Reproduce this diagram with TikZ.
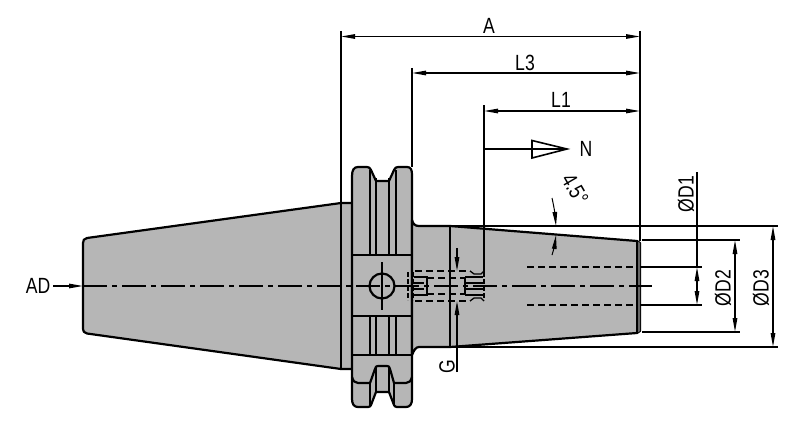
\documentclass[tikz,border=0pt]{standalone}
\usepackage{fontspec}
\setmainfont[FakeStretch=0.8]{Liberation Sans}
\usetikzlibrary{arrows.meta}
\definecolor{bodygrey}{HTML}{B6B6B6}
\tikzset{
  x=1pt,y=-1pt,
  body/.style={fill=bodygrey,draw=black,line width=2.2pt,line join=round},
  edge/.style={draw=black,line width=2.2pt,line join=round},
  thin line/.style={draw=black,line width=1.2pt},
  dimline/.style={draw=black,line width=1.3pt,{Triangle[length=14pt,width=4.5pt]}-{Triangle[length=14pt,width=4.5pt]}},
  tipend/.style={draw=black,line width=1.3pt,-{Triangle[length=14pt,width=4.5pt]}},
  centre/.style={draw=black,line width=1.1pt,dash pattern=on 24pt off 5pt on 5pt off 5pt},
  hidden/.style={draw=black,line width=1.5pt,dash pattern=on 7pt off 4pt},
  lab/.style={font=\fontsize{22pt}{24pt}\selectfont,inner sep=0pt,text=black}
}
\begin{document}
\begin{tikzpicture}
\useasboundingbox (0,0) rectangle (800,428);
\fill[white] (0,0) rectangle (800,428);
% rear taper
\draw[body] (87,238) -- (341,203) -- (353,203) -- (353,369) -- (341,369) -- (87,333.5)
  .. controls (84,333) and (83,331) .. (83,329) -- (83,243) .. controls (83,240) and (84,239) .. (87,238) -- cycle;
% flange
\draw[body] (352,176) .. controls (352,170) and (354,167) .. (358,167) -- (367,167) .. controls (369,167) and (370,168) .. (371,170)
  -- (376,181) -- (389,181) -- (394,170) .. controls (395,168) and (396,167) .. (398,167) -- (407,167)
  .. controls (411,167) and (412,170) .. (412,175) -- (412,399) .. controls (412,404) and (410,407) .. (406,407)
  -- (397,407) .. controls (395,407) and (394.5,406) .. (394,405) -- (389,392) -- (376,392) -- (371,405)
  .. controls (370.5,406) and (370,407) .. (368,407) -- (358,407) .. controls (354,407) and (352,404) .. (352,399) -- cycle;
% front cone
\draw[body] (412,220) .. controls (413,224) and (415,226) .. (419,226) -- (450,226) -- (637,241) -- (640,243) -- (640,331) -- (637,333) -- (450,347) -- (419,347)
  .. controls (416,347) and (414,350) .. (412,355) -- cycle;
\fill[black!60] (637,241) -- (640,243) -- (640,331) -- (637,333) -- cycle;
\draw[edge] (637,241) -- (637,333);
\draw[edge] (450,226) -- (450,347);
% flange details
\draw[edge] (352,255) -- (412,255) (352,316) -- (412,316) (352,355) -- (412,355);
\draw[edge] (370,170) -- (370,255) (376,178) -- (376,255) (389,178) -- (389,255) (396,170) -- (396,255);
\draw[edge] (370,316) -- (370,355) (376,316) -- (376,355) (389,316) -- (389,355) (396,316) -- (396,355);
\draw[edge] (352,377) .. controls (353,381) and (355,383) .. (358,383) -- (370,383) -- (375,369) .. controls (376,366.5) and (376,366) .. (378,366) -- (387,366) .. controls (389,366) and (389,366.5) .. (390,369) -- (394,383) -- (406,383) .. controls (409,383) and (411,381) .. (412,377);
\draw[edge] (376,367) -- (376,392) (389,367) -- (389,392);
\draw[edge] (370,383) -- (370,406) (394,383) -- (394,406);
\draw[edge] (382,286) circle (12.5);
\draw[thin line] (382,262) -- (382,310);
% hidden details
\draw[hidden] (415,271) -- (470,271) (415,301) -- (470,301);
\draw[hidden] (427,278) -- (465,278) (427,294) -- (465,294);
\draw[hidden] (527,267) -- (637,267) (527,305) -- (637,305);
\draw[thin line,line width=1.3pt] (470,271) -- (474,274) -- (481,274) -- (484,271) (470,301) -- (474,298) -- (481,298) -- (484,301);
\draw[thin line,line width=1.3pt] (414,277) -- (427,277) -- (427,295) -- (414,295) (414,283) -- (424,283) (414,289) -- (424,289);
\draw[thin line,line width=1.3pt] (465,277) -- (483,277) (465,283) -- (483,283) (465,289) -- (483,289) (465,295) -- (483,295) (465,277) -- (465,295);
\draw[hidden,line width=2pt,dash pattern=on 5pt off 2pt] (408,272) -- (408,300) (413,272) -- (413,300) (484,272) -- (484,300);
% centre line
\draw[centre] (83,286) -- (652,286);
% extension lines
\draw[thin line] (341,31) -- (341,369);
\draw[thin line] (412,68) -- (412,167);
\draw[thin line] (484,105) -- (484,272);
\draw[thin line] (640,31) -- (640,241);
\draw[thin line] (450,226) -- (778,226);
\draw[thin line] (450,347) -- (778,347);
\draw[thin line] (642,240) -- (740,240);
\draw[thin line] (642,332) -- (740,332);
\draw[thin line] (640,267) -- (702,267);
\draw[thin line] (640,305) -- (702,305);
% dimension lines
\draw[dimline] (341,36.5) -- (640,36.5);
\draw[dimline] (412,73) -- (640,73);
\draw[dimline] (484,111) -- (640,111);
\draw[dimline] (735,240) -- (735,332);
\draw[dimline] (773,226) -- (773,347);
\draw[thin line] (697,172) -- (697,267);
\draw[dimline] (697,267) -- (697,305);
\draw[tipend] (457,248) -- (457,271);
\draw[tipend] (457,372) -- (457,301);
\draw[tipend] (53,286) -- (83,286);
% taper angle arrows
\draw[tipend,line width=1pt] (552,198) .. controls (554,207) and (555,214) .. (556,226);
\draw[tipend,line width=1pt] (552,255) .. controls (554,249) and (555,243) .. (556,235);
% view arrow
\draw[thin line] (484,149) -- (532,149);
\draw[draw=black,line width=1.6pt,fill=white,line join=miter] (532,140.5) -- (567,149) -- (532,158) -- cycle;
\draw[thin line] (532,149) -- (567,149);
% labels
\node[lab] (labA) at (489,26) {A};
\node[lab] (labLthree) at (525,63) {L3};
\node[lab] (labLone) at (561,100) {L1};
\node[lab] (labN) at (586,149) {N};
\node[lab,rotate=-60] (labAngle) at (575,189) {4.5°};
\node[lab,rotate=90] (labDone) at (686,194) {ØD1};
\node[lab,rotate=90] (labDtwo) at (723,288) {ØD2};
\node[lab,rotate=90] (labDthree) at (761,288) {ØD3};
\node[lab,rotate=90] (labG) at (447,367) {G};
\node[lab] (labAD) at (38,286) {AD};
\end{tikzpicture}
\end{document}
